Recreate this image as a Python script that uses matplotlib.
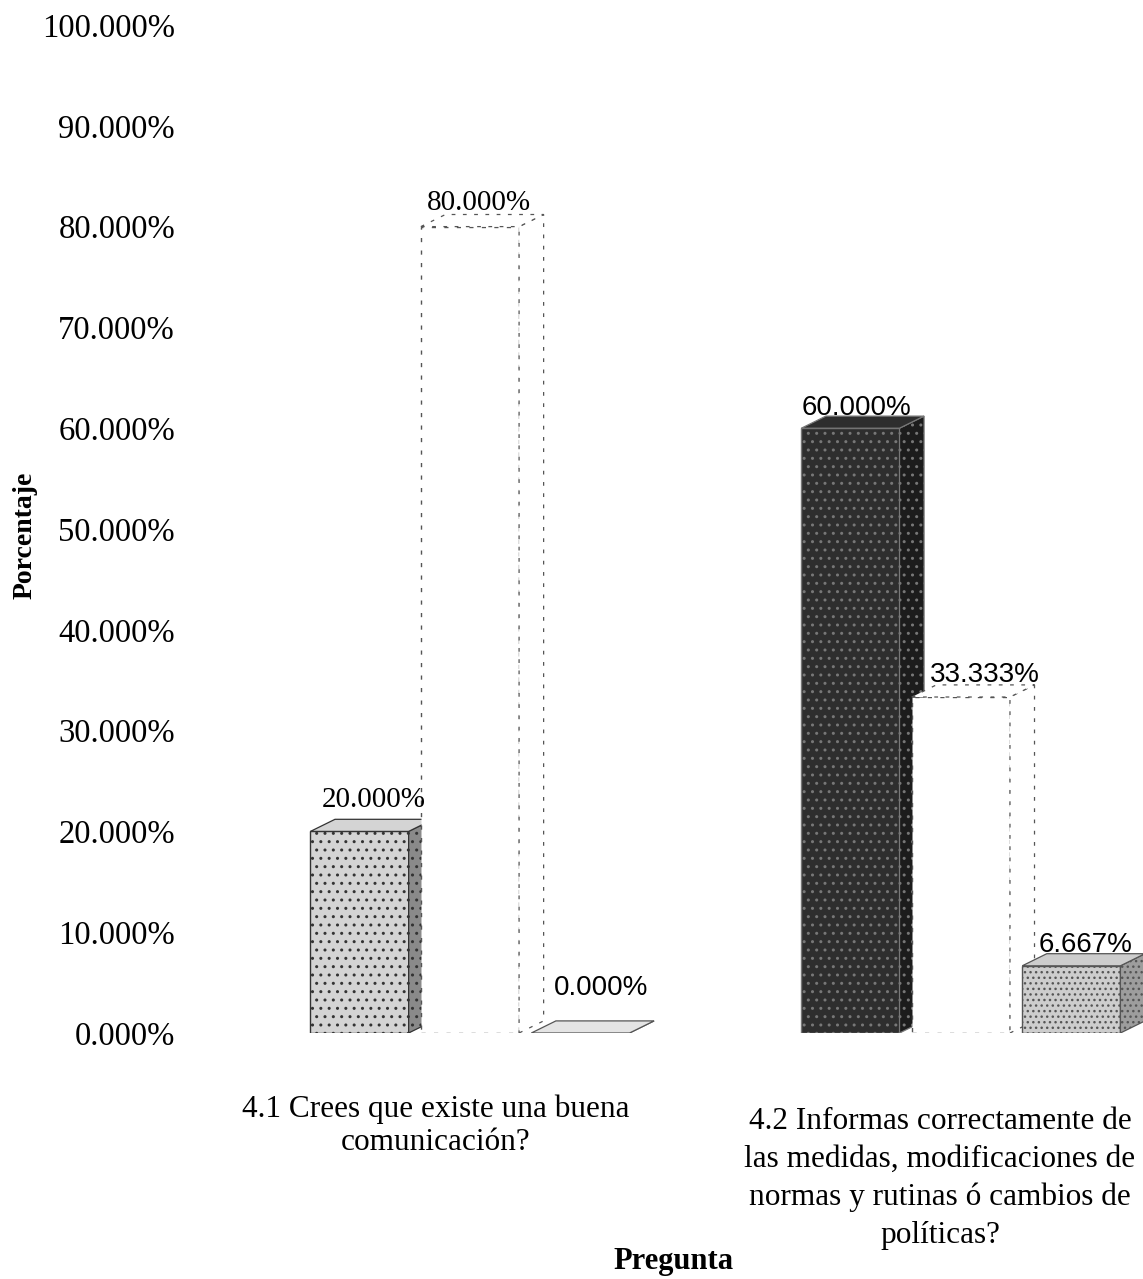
import matplotlib
matplotlib.use("Agg")
import matplotlib.pyplot as plt
from matplotlib.patches import Polygon
import numpy as np

# Survey answers, percentage per question and answer option
questions = [
    "4.1 Crees que existe una buena\ncomunicación?",
    "4.2 Informas correctamente de\nlas medidas, modificaciones de\nnormas y rutinas ó cambios de\npolíticas?",
]
serie_1 = [20.000, 60.000]
serie_2 = [80.000, 33.333]
serie_3 = [0.000, 6.667]
y_ticks = [0, 10, 20, 30, 40, 50, 60, 70, 80, 90, 100]

SERIF = ["Liberation Serif", "DejaVu Serif"]
SANS = ["Liberation Sans", "DejaVu Sans"]
plt.rcParams["font.family"] = SERIF

W, H = 1143, 1279
fig = plt.figure(figsize=(W / 100, H / 100), dpi=100)
fig.patch.set_facecolor("white")

# axes in pixel terms: left 200, right edge of figure, 0% at y=1033, 100% at y=25
ax = fig.add_axes([200 / W, (H - 1033) / H, (W - 200) / W, (1033 - 25) / H])
ax.set_xlim(-0.55, 1.371)
ax.set_ylim(0, 100)
ax.patch.set_alpha(0)

x = np.arange(len(questions))
step = 0.225      # distance between bars of a group
bw = 0.20         # front face width
dx, dy = 0.05, 1.2  # depth of the pseudo 3D box

# style per series, per question group: face, side, edge, hatch, line style
styles = [
    [dict(fc="#d4d4d4", sc="#8a8a8a", ec="#333333", hatch="..", ls="-"),
     dict(fc="#2e2e2e", sc="#1c1c1c", ec="#777777", hatch="..", ls="-")],
    [dict(fc="white", sc="white", ec="#555555", hatch=None, ls=(0, (3, 6))),
     dict(fc="white", sc="white", ec="#555555", hatch=None, ls=(0, (3, 6)))],
    [dict(fc="#e4e4e4", sc="#bdbdbd", ec="#555555", hatch="..", ls="-"),
     dict(fc="#cdcdcd", sc="#9d9d9d", ec="#555555", hatch="...", ls="-")],
]
# value label font and offset (pixels) per series, per group
label_style = [
    [(SERIF, 21, (14, 31)), (SANS, 20, (6, 20))],
    [(SERIF, 21, (9, 24)), (SANS, 20, (24, 22))],
    [(SANS, 20, (21, 45)), (SANS, 20, (14, 21))],
]

for k, vals in enumerate([serie_1, serie_2, serie_3]):
    pos = x + (k - 1) * step
    for i, (xp, v) in enumerate(zip(pos, vals)):
        st = styles[k][i]
        z = 2 + k
        plt.rcParams["hatch.color"] = st["ec"]
        ax.bar(xp, v, width=bw, color=st["fc"], edgecolor=st["ec"],
               hatch=st["hatch"], linewidth=1.0, linestyle=st["ls"], zorder=z)
        x0, x1 = xp - bw / 2, xp + bw / 2
        side = Polygon([(x1, 0), (x1 + dx, dy), (x1 + dx, v + dy), (x1, v)],
                       closed=True, facecolor=st["sc"], edgecolor=st["ec"],
                       hatch=st["hatch"], linewidth=0.9, linestyle=st["ls"], zorder=z)
        top = Polygon([(x0, v), (x1, v), (x1 + dx, v + dy), (x0 + dx, v + dy)],
                      closed=True, facecolor=st["fc"], edgecolor=st["ec"],
                      linewidth=0.9, linestyle=st["ls"], zorder=z)
        ax.add_patch(side)
        ax.add_patch(top)
        fam, fs, off = label_style[k][i]
        ax.annotate(f"{v:.3f}%", xy=(xp, v), xytext=off, textcoords="offset pixels",
                    ha="center", va="center", fontsize=fs, family=fam,
                    color="black", zorder=10)

ax.set_yticks(y_ticks)
ax.set_yticklabels([f"{t:.3f}%" for t in y_ticks], fontsize=23.5)
ax.tick_params(axis="y", length=0, pad=18)
ax.set_xticks([])
for s in ax.spines.values():
    s.set_visible(False)

# category labels under each group
label_shift = [(-34, -61), (-21, -74)]
label_spacing = [1.2, 1.4]
for i, q in enumerate(questions):
    ax.annotate(q, xy=(x[i], 0), xycoords="data",
                xytext=label_shift[i], textcoords="offset pixels",
                ha="center", va="top", fontsize=22.5, linespacing=label_spacing[i])

fig.text(673 / W, 1 - 1262 / H, "Pregunta", ha="center", va="center",
         fontsize=22, fontweight="bold")
fig.text(25 / W, 1 - 535 / H, "Porcentaje", ha="center", va="center",
         rotation=90, fontsize=20, fontweight="bold")

fig.savefig("out.png", dpi=100, facecolor="white")
